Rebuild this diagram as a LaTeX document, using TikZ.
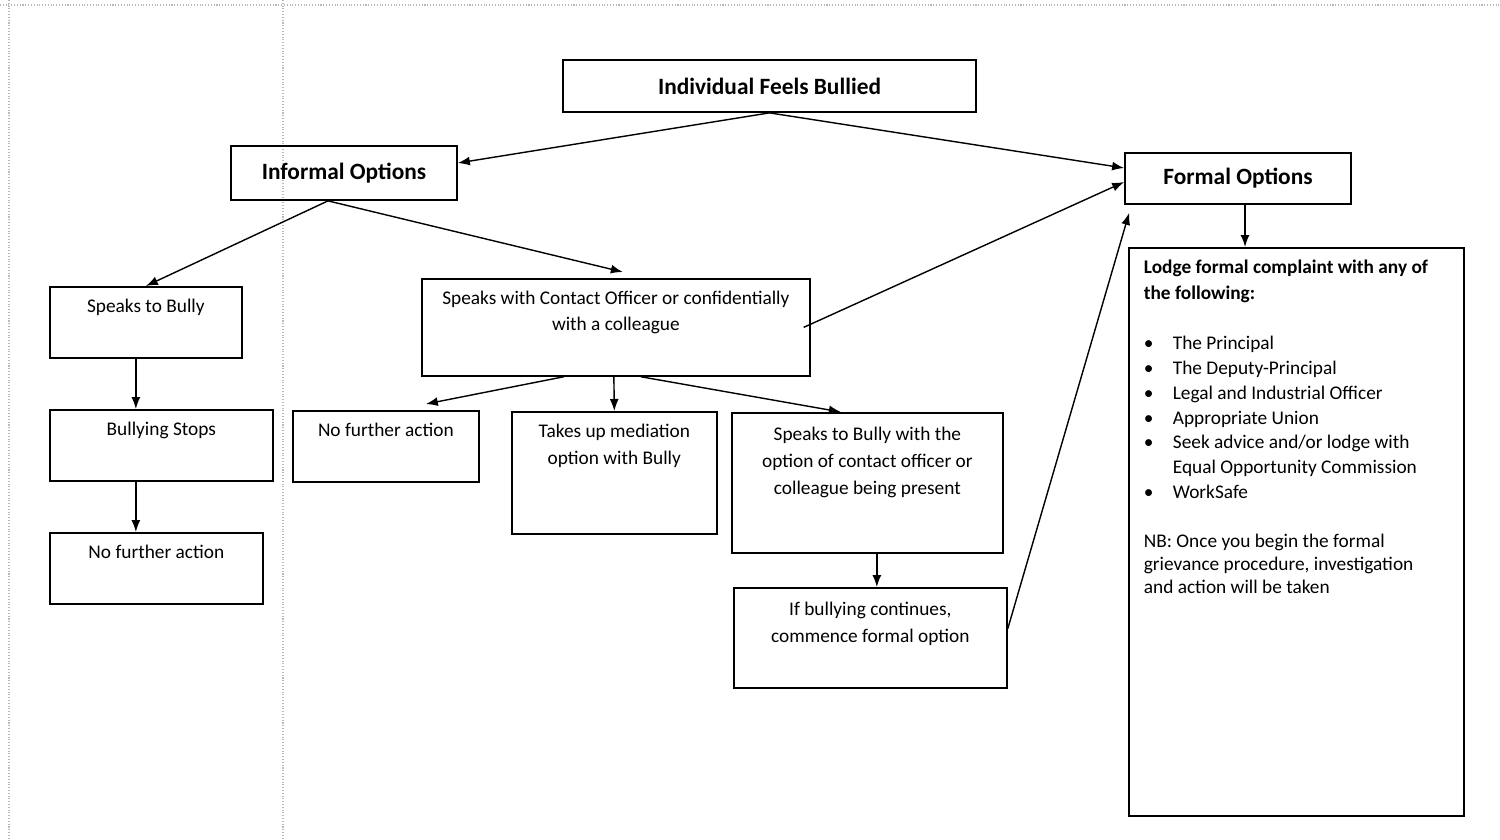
\documentclass[tikz,border=0pt]{standalone}
\usepackage{fontspec}
\setmainfont{Carlito}
\usetikzlibrary{arrows.meta}
\tikzset{
  hdr/.style={rectangle, draw=black, line width=1pt, inner sep=0pt, font=\fontsize{13.3}{16}\selectfont\bfseries},
  flowbox/.style={rectangle, draw=black, line width=1pt, inner sep=0pt, anchor=north west, font=\fontsize{11}{15.3}\selectfont},
  scanline/.style={gray!55, line width=0.6pt, densely dotted}
}
\tikzstyle{arrow} = [line width=0.8pt,black,-{Latex[length=2.4mm,width=1.8mm]}]
\newcommand{\boxtext}[4][7pt]{\parbox[t][#3][t]{#2}{\centering\vspace*{#1}#4}}

\begin{document}
\begin{tikzpicture}[x=0.02cm,y=-0.02cm]
  \useasboundingbox (0,0) rectangle (1500,839);
  % edges of the scanned page
  \draw[scanline] (0,5) -- (1500,5);
  \draw[scanline] (9,0) -- (9,839);
  \draw[scanline] (283,0) -- (283,839);

  \node[hdr, minimum width=8.26cm, minimum height=1.04cm] (indiv) at (769.5,86) {Individual Feels Bullied};
  \node[hdr, minimum width=4.52cm, minimum height=1.08cm] (informal) at (344,173) {Informal Options};
  \node[hdr, minimum width=4.52cm, minimum height=1.02cm] (formal) at (1238,178.5) {Formal Options};

  % informal side
  \node[flowbox] (speaks) at (49,286) {\boxtext{3.84cm}{1.42cm}{Speaks to Bully}};
  \node[flowbox] (bstops) at (49,409) {\boxtext{4.46cm}{1.42cm}{Bullying Stops}};
  \node[flowbox] (nfa1) at (49,532) {\boxtext{4.26cm}{1.42cm}{No further action}};
  \node[flowbox, font=\fontsize{11}{14.8}\selectfont] (contact) at (421,278) {\boxtext[7pt]{7.76cm}{1.94cm}{Speaks with Contact Officer or confidentially\\ with a colleague}};
  \node[flowbox] (nfa2) at (292,410) {\boxtext{3.72cm}{1.42cm}{No further action}};
  \node[flowbox] (mediation) at (511,411) {\boxtext{4.1cm}{2.44cm}{Takes up mediation\\ option with Bully}};
  \node[flowbox] (option) at (731,412) {\boxtext[8pt]{5.42cm}{2.8cm}{Speaks to Bully with the\\ option of contact officer or\\ colleague being present}};
  \node[flowbox] (ifcont) at (733,587) {\boxtext[8pt]{5.46cm}{2.0cm}{If bullying continues,\\ commence formal option}};

  % formal side
  \node[flowbox] (lodge) at (1128,247) {\parbox[t][11.36cm][t]{6.7cm}{\raggedright\leftskip=0.3cm
    \fontsize{11}{14.7}\selectfont
    \vspace*{7pt}\textbf{Lodge formal complaint with any of\\ the following:}\par
    \vspace{14.5pt}\fontsize{11}{14.1}\selectfont
    \makebox[0.58cm][l]{\textbullet}The Principal\\
    \makebox[0.58cm][l]{\textbullet}The Deputy-Principal\\
    \makebox[0.58cm][l]{\textbullet}Legal and Industrial Officer\\
    \makebox[0.58cm][l]{\textbullet}Appropriate Union\\
    \makebox[0.58cm][l]{\textbullet}Seek advice and/or lodge with\\
    \hspace*{0.58cm}Equal Opportunity Commission\\
    \makebox[0.58cm][l]{\textbullet}WorkSafe\par
    \vspace{15pt}\fontsize{11}{13}\selectfont
    NB: Once you begin the formal\\ grievance procedure, investigation\\ and action will be taken\par}};

  \draw[arrow] (indiv.south) -- ([yshift=0.2cm]informal.east);
  \draw[arrow] (indiv.south) -- ([yshift=0.21cm]formal.west);
  \draw[arrow] ([xshift=-0.32cm]informal.south) -- (speaks.north);
  \draw[arrow] ([xshift=-0.32cm]informal.south) -- ([xshift=0.14cm,yshift=0.12cm]contact.north);
  \draw[arrow] ([xshift=-0.14cm]contact.east) -- ([yshift=-0.07cm]formal.west);
  \draw[arrow] ([xshift=-0.2cm]speaks.south) -- ([xshift=-0.2cm]speaks.south |- bstops.north);
  \draw[arrow] ([xshift=-0.51cm]bstops.south) -- ([xshift=-0.51cm]bstops.south |- nfa1.north);
  \draw[arrow] ([xshift=-1.04cm]contact.south) -- ([xshift=0.8cm,yshift=0.12cm]nfa2.north);
  \draw[arrow] ([xshift=-0.04cm]contact.south) -- (mediation.north);
  \draw[arrow] ([xshift=0.5cm]contact.south) -- ([xshift=-0.53cm]option.north);
  \draw[arrow] ([xshift=0.19cm]option.south) -- ([xshift=0.19cm]option.south |- ifcont.north);
  \draw[arrow] ([yshift=0.18cm]ifcont.east) -- ([xshift=0.1cm,yshift=-0.16cm]formal.south west);
  \draw[arrow] ([xshift=0.14cm]formal.south) -- ([xshift=0.14cm]formal.south |- lodge.north);
\end{tikzpicture}
\end{document}
